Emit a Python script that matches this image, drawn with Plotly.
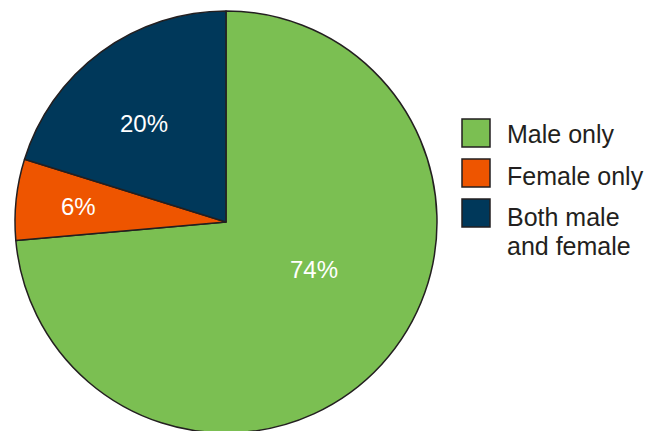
import math
import plotly.graph_objects as go

labels = ["Male only", "Female only", "Both male and female"]
legend_lines = [["Male only"], ["Female only"], ["Both male", "and female"]]
values = [73.6, 6.2, 20.2]
colors = ["#7BBF52", "#EE5500", "#00385A"]

# geometry (figure px; page body adds 8px offset)
W, H = 658, 431
cx, cy, R = 218, 214, 211
label_r = [0.477, 0.705, 0.607]       # radial position of the % labels (fraction of R)
label_shift = [-14.0, 0, -3.7]        # angular nudge of labels (deg)
FONT = "Liberation Sans, Arial, sans-serif"
INK = "#231F20"

fig = go.Figure()
fig.add_trace(go.Pie(
    labels=labels,
    values=values,
    sort=False,
    direction="clockwise",
    rotation=0,
    marker=dict(colors=colors, line=dict(color=INK, width=1.5)),
    textinfo="none",
    domain=dict(x=[(cx - R) / W, (cx + R) / W], y=[1 - (cy + R) / H, 1 - (cy - R) / H]),
    showlegend=False,
    hoverinfo="label+percent",
))

# percentage labels, positioned at each slice's bisector angle
total = sum(values)
cum = 0
for i, v in enumerate(values):
    mid = (cum + v / 2) / total * 360 + label_shift[i]
    cum += v
    d = label_r[i] * R
    px = cx + d * math.sin(math.radians(mid))
    py = cy - d * math.cos(math.radians(mid))
    fig.add_annotation(xref="paper", yref="paper", x=px / W, y=1 - py / H,
                       xanchor="center", yanchor="middle", showarrow=False,
                       text=f"{round(v / total * 100)}%",
                       font=dict(family=FONT, size=24, color="white"))

# custom legend
sq_top = [111, 151, 191]
text_y = [126, 168, 209]
line_gap = 28.5
for i, lines in enumerate(legend_lines):
    fig.add_shape(type="rect", xref="paper", yref="paper",
                  x0=454 / W, x1=482 / W,
                  y0=1 - (sq_top[i] + 28) / H, y1=1 - sq_top[i] / H,
                  fillcolor=colors[i], line=dict(color=INK, width=1.5))
    for j, ln in enumerate(lines):
        fig.add_annotation(xref="paper", yref="paper", x=497 / W,
                           y=1 - (text_y[i] + j * line_gap) / H,
                           xanchor="left", yanchor="middle", align="left",
                           text=ln, showarrow=False,
                           font=dict(family=FONT, size=25, color=INK))

fig.update_layout(
    width=W, height=H,
    margin=dict(l=0, r=0, t=0, b=0),
    paper_bgcolor="white", plot_bgcolor="white",
)
fig.write_html("out.html")
